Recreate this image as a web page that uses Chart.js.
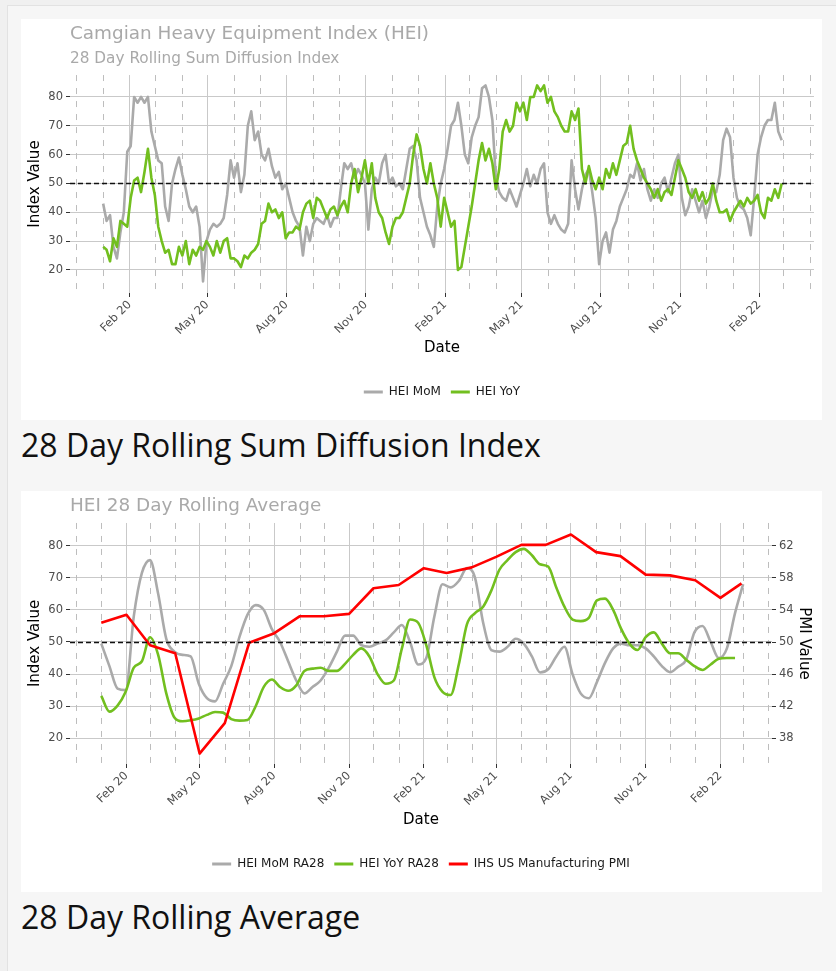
<!DOCTYPE html>
<html>
<head>
<meta charset="utf-8">
<title>Camgian Heavy Equipment Index</title>
<script src="https://cdn.jsdelivr.net/npm/chart.js@4.4.1/dist/chart.umd.min.js"></script>
<style>
    html, body { margin: 0; padding: 0; overflow: hidden; background: #f0f0f0; }
    .page {
        position: absolute; left: 7px; top: 5px; width: 840px; height: 966px;
        box-sizing: border-box; padding: 13px 0 0 13px;
        background: #f6f6f6; border-left: 1px solid #e2e2e2; border-top: 1px solid #e2e2e2;
    }
    .panel { width: 801px; height: 401px; background: #fff; }
    .panel canvas { display: block; }
    h2 { margin: 3px 0 24px 0; font: 400 32px/44px "Open Sans", sans-serif; color: #111; }
</style>
</head>
<body>
<div class="page">
    <div class="panel"><canvas id="sumChart" width="801" height="401"></canvas></div>
    <h2>28 Day Rolling Sum Diffusion Index</h2>
    <div class="panel"><canvas id="avgChart" width="801" height="401"></canvas></div>
    <h2>28 Day Rolling Average</h2>
</div>
<script>
// 28 day rolling sum diffusion index, one reading every 4 days
const sumStart = "2020-01-01";
const sumStepDays = 4;
const sumMoM = [
    43, 37, 39, 28, 24, 33, 40, 61, 63, 80,
    78, 80, 78, 80, 68, 63, 58, 57, 42, 37,
    50, 55, 59, 53, 48, 42, 40, 42, 35, 16,
    30, 34, 36, 35, 36, 38, 46, 58, 52, 57,
    47, 53, 70, 75, 65, 68, 60, 58, 62, 56,
    52, 54, 48, 50, 45, 40, 37, 35, 25, 35,
    30, 36, 38, 37, 36, 39, 35, 38, 38, 48,
    57, 55, 57, 52, 55, 53, 50, 34, 48, 52,
    50, 57, 60, 50, 52, 49, 50, 48, 55, 62,
    63, 58, 45, 40, 35, 32, 28, 42, 50, 55,
    62, 70, 72, 78, 70, 60, 57, 66, 70, 73,
    83, 84, 80, 72, 52, 47, 45, 44, 48, 45,
    42, 46, 50, 55, 49, 53, 50, 55, 57, 40,
    36, 39, 36, 34, 33, 36, 58, 48, 41, 48,
    53, 55, 47, 38, 22, 30, 33, 26, 34, 37,
    42, 45, 48, 53, 52, 57, 51, 55, 48, 44,
    48, 45, 50, 52, 47, 52, 57, 60, 45, 39,
    42, 48, 44, 40, 44, 38, 42, 48, 47, 53,
    65, 69, 66, 52, 45, 42, 41, 38, 32, 45,
    60, 66, 70, 72, 72, 78, 68, 65
];
const sumYoY = [
    28, 27, 23, 31, 28, 37, 36, 35, 45, 51,
    52, 47, 54, 62, 52, 46, 35, 30, 26, 27,
    22, 22, 28, 25, 30, 22, 27, 25, 28, 27,
    30, 28, 25, 30, 26, 30, 31, 24, 24, 23,
    21, 25, 24, 26, 27, 29, 36, 37, 43, 40,
    41, 38, 40, 31, 33, 33, 35, 34, 40, 43,
    44, 38, 45, 44, 41, 38, 41, 42, 39, 42,
    44, 40, 50, 55, 47, 52, 58, 50, 57, 45,
    40, 38, 33, 29, 35, 38, 38, 40, 45, 50,
    60, 67, 63, 55, 50, 57, 50, 45, 35, 45,
    40, 35, 37, 20, 21, 28, 35, 42, 50, 58,
    64, 58, 62, 57, 48, 55, 68, 72, 68, 70,
    78, 75, 78, 72, 80, 80, 84, 82, 84, 78,
    80, 75, 73, 70, 68, 68, 75, 72, 76, 55,
    50, 56, 51, 48, 52, 48, 55, 52, 57, 53,
    58, 63, 64, 70, 62, 58, 55, 52, 50, 48,
    45, 48, 44, 47, 48, 46, 52, 58, 55, 52,
    47, 45, 48, 44, 47, 43, 45, 50, 44, 40,
    40, 41, 37, 40, 42, 44, 42, 45, 43, 44,
    46, 40, 38, 45, 44, 48, 45, 50
];

// 28 day rolling averages, one reading every 10 days
const avgStart = "2020-01-01";
const avgStepDays = 10;
const avgMoM = [
    49.5, 42.5, 35.5, 35, 58, 71.5, 75.5, 65, 51, 47,
    46, 45.5, 37, 32.5, 31.5, 37, 42.5, 51.5, 58.5, 61.5,
    60, 54, 50, 44, 38, 34, 36, 38, 42, 47,
    52, 52, 49, 48.5, 49.5, 50.5, 53, 55.3, 50, 43,
    45, 58, 68, 67, 69, 73, 70, 56, 47.5, 47,
    48.5, 51, 49.5, 45.5, 40.5, 41.5, 45.5, 48.5, 40, 34,
    32.5, 37.5, 43.5, 48, 49.5, 49, 49, 48, 45.5, 42.5,
    40.6, 42.3, 44.5, 53, 55, 50, 45, 48, 59, 68
];
const avgYoY = [
    33.2, 28.3, 30.2, 34.5, 42, 44, 51.5, 46, 34, 26.5,
    25.3, 25.6, 26.2, 27.3, 28.2, 28, 26, 25.5, 25.7, 30,
    36, 38.3, 36, 34.8, 36.5, 41, 41.7, 42, 41, 41,
    43.2, 46, 48, 45.5, 40, 37, 38, 48, 57, 56,
    49, 39, 34.5, 33.5, 43, 55.5, 59, 61, 66, 72.5,
    75.5, 78, 79, 77, 74.2, 73.5, 67, 61, 57, 56.5,
    57.5, 63, 63.5, 60, 54, 49.5, 47.5, 51.5, 53, 49.5,
    46.5, 46.5, 44.5, 42.5, 41.3, 43, 44.8, 45, 45
];

// IHS US Manufacturing PMI (right axis)
const pmiDates = [
    "2020-01-01", "2020-02-01", "2020-03-01", "2020-04-01", "2020-05-01", "2020-06-01",
    "2020-07-01", "2020-08-01", "2020-09-01", "2020-10-01", "2020-11-01", "2020-12-01",
    "2021-01-01", "2021-02-01", "2021-03-01", "2021-04-01", "2021-05-01", "2021-06-01",
    "2021-07-01", "2021-08-01", "2021-09-01", "2021-10-01", "2021-11-01", "2021-12-01",
    "2022-01-01", "2022-02-01", "2022-02-27"
];
const pmiValues = [
    52.4, 53.4, 49.6, 48.6, 36.1, 39.9, 49.9, 51.1, 53.2, 53.2, 53.5, 56.7, 57.1,
    59.2, 58.6, 59.3, 60.6, 62.1, 62.1, 63.4, 61.2, 60.7, 58.4, 58.3, 57.7, 55.5, 57.3
];

const majorTickDates = [
    "2020-02-01", "2020-05-01", "2020-08-01", "2020-11-01", "2021-02-01",
    "2021-05-01", "2021-08-01", "2021-11-01", "2022-02-01"
];
const majorTickLabels = ["Feb 20", "May 20", "Aug 20", "Nov 20", "Feb 21", "May 21", "Aug 21", "Nov 21", "Feb 22"];
const indexTicks = [20, 30, 40, 50, 60, 70, 80];
const pmiTicks = [38, 42, 46, 50, 54, 58, 62];
const referenceLevel = 50;

const GREY = "#aaaaaa";
const GREEN = "#72bf1f";
const RED = "#ff0000";

Chart.defaults.font.family = "'DejaVu Sans', sans-serif";

const DAY = 86400000;
const dayOf = s => (Date.parse(s) - Date.parse("2020-01-01")) / DAY;
const toPoints = (start, step, values) => values.map((v, i) => ({ x: dayOf(start) + i * step, y: v }));

const majorDays = majorTickDates.map(dayOf);
const minorDays = [];
for (let i = 0; i <= 28; i++) {
    const d = (Date.UTC(2019, 11 + i, 1) - Date.UTC(2020, 0, 1)) / DAY;
    if (!majorDays.includes(d)) minorDays.push(d);
}

// dashed month lines behind the data, dashed 50 line on top
const guideLines = {
    id: "guideLines",
    beforeDatasetsDraw(chart) {
        const { ctx, chartArea: area, scales: { x } } = chart;
        ctx.save();
        ctx.strokeStyle = "#bdbdbd";
        ctx.lineWidth = 1;
        ctx.setLineDash([6, 7]);
        minorDays.forEach(d => {
            const px = Math.round(x.getPixelForValue(d)) + 0.5;
            ctx.beginPath();
            ctx.moveTo(px, area.top);
            ctx.lineTo(px, area.bottom);
            ctx.stroke();
        });
        ctx.restore();
    },
    afterDatasetsDraw(chart) {
        const { ctx, chartArea: area, scales: { y } } = chart;
        const py = Math.round(y.getPixelForValue(referenceLevel)) + 0.5;
        ctx.save();
        ctx.strokeStyle = "#111";
        ctx.lineWidth = 1.3;
        ctx.setLineDash([5, 3]);
        ctx.beginPath();
        ctx.moveTo(area.left, py);
        ctx.lineTo(area.right, py);
        ctx.stroke();
        ctx.restore();
    }
};

function dateAxis(height) {
    return {
        type: "linear",
        min: -38.5,
        max: 825.5,
        afterBuildTicks: axis => { axis.ticks = majorDays.map(v => ({ value: v })); },
        afterFit: axis => { axis.height = height; },
        ticks: {
            autoSkip: false, minRotation: 45, maxRotation: 45, padding: 1,
            color: "#4d4d4d", font: { size: 11.5 },
            callback: (value, index) => majorTickLabels[index]
        },
        grid: { color: "#c9c9c9", lineWidth: 1, tickLength: 4, tickColor: "#333" },
        border: { display: false },
        title: { display: true, text: "Date", color: "#000", font: { size: 15 }, padding: { top: 0, bottom: 19 } }
    };
}

function indexAxis(max) {
    return {
        type: "linear",
        position: "left",
        min: 12,
        max: max,
        afterBuildTicks: axis => { axis.ticks = indexTicks.map(v => ({ value: v })); },
        afterFit: axis => { axis.width = 49; },
        ticks: { padding: 3, color: "#4d4d4d", font: { size: 11.5 } },
        grid: { color: "#c9c9c9", lineWidth: 1, tickLength: 4, tickColor: "#333" },
        border: { display: false },
        title: { display: true, text: "Index Value", color: "#000", font: { size: 15 }, padding: { top: 5 } }
    };
}

const legendOptions = {
    position: "bottom",
    fullSize: false,
    labels: {
        boxWidth: 19, boxHeight: 3, padding: 10, color: "#1a1a1a", font: { size: 12 },
        sort: (a, b) => a.datasetIndex - b.datasetIndex,
        generateLabels: chart => Chart.defaults.plugins.legend.labels.generateLabels(chart)
            .map(item => ({ ...item, lineWidth: 0 }))
    }
};

const titleFont = { size: 18.4, weight: "normal" };

new Chart(document.getElementById("sumChart"), {
    type: "line",
    data: {
        datasets: [
            { label: "HEI MoM", data: toPoints(sumStart, sumStepDays, sumMoM), borderColor: GREY, backgroundColor: GREY, order: 2 },
            { label: "HEI YoY", data: toPoints(sumStart, sumStepDays, sumYoY), borderColor: GREEN, backgroundColor: GREEN, order: 1 }
        ]
    },
    options: {
        responsive: false,
        animation: false,
        events: [],
        layout: { padding: { left: 0, right: 8, top: 0, bottom: 12 } },
        elements: {
            line: { borderWidth: 2.6, tension: 0, borderJoinStyle: "round" },
            point: { radius: 0 }
        },
        scales: { x: dateAxis(83), y: indexAxis(87.6) },
        plugins: {
            title: {
                display: true, text: "Camgian Heavy Equipment Index (HEI)", align: "start", fullSize: false,
                color: "#a9a9a9", font: titleFont, padding: { top: 4.6, bottom: 0 }
            },
            subtitle: {
                display: true, text: "28 Day Rolling Sum Diffusion Index", align: "start", fullSize: false,
                color: "#a9a9a9", font: { size: 15.3, weight: "normal" }, padding: { top: 3.7, bottom: 7.3 }
            },
            legend: legendOptions,
            tooltip: { enabled: false }
        }
    },
    plugins: [guideLines]
});

const pmiAxis = {
    type: "linear",
    position: "right",
    min: 34.8,
    max: 64.83,
    afterBuildTicks: axis => { axis.ticks = pmiTicks.map(v => ({ value: v })); },
    afterFit: axis => { axis.width = 50; },
    ticks: { padding: 3, color: "#4d4d4d", font: { size: 11.5 } },
    grid: { drawOnChartArea: false, tickLength: 4, tickColor: "#333" },
    border: { display: false },
    title: { display: true, text: "PMI Value", color: "#000", font: { size: 15 }, padding: { top: 9 } }
};

new Chart(document.getElementById("avgChart"), {
    type: "line",
    data: {
        datasets: [
            {
                label: "HEI MoM RA28", data: toPoints(avgStart, avgStepDays, avgMoM),
                borderColor: GREY, backgroundColor: GREY, cubicInterpolationMode: "monotone", order: 3
            },
            {
                label: "HEI YoY RA28", data: toPoints(avgStart, avgStepDays, avgYoY),
                borderColor: GREEN, backgroundColor: GREEN, cubicInterpolationMode: "monotone", order: 2
            },
            {
                label: "IHS US Manufacturing PMI", data: pmiDates.map((d, i) => ({ x: dayOf(d), y: pmiValues[i] })),
                borderColor: RED, backgroundColor: RED, yAxisID: "y2", order: 1
            }
        ]
    },
    options: {
        responsive: false,
        animation: false,
        events: [],
        layout: { padding: { left: 0, right: 0, top: 0, bottom: 12 } },
        elements: {
            line: { borderWidth: 2.6, tension: 0, borderJoinStyle: "round" },
            point: { radius: 0 }
        },
        scales: { x: dateAxis(84), y: indexAxis(87.07), y2: pmiAxis },
        plugins: {
            title: {
                display: true, text: "HEI 28 Day Rolling Average", align: "start", fullSize: false,
                color: "#a9a9a9", font: titleFont, padding: { top: 4.6, bottom: 5.3 }
            },
            legend: legendOptions,
            tooltip: { enabled: false }
        }
    },
    plugins: [guideLines]
});
</script>
</body>
</html>
